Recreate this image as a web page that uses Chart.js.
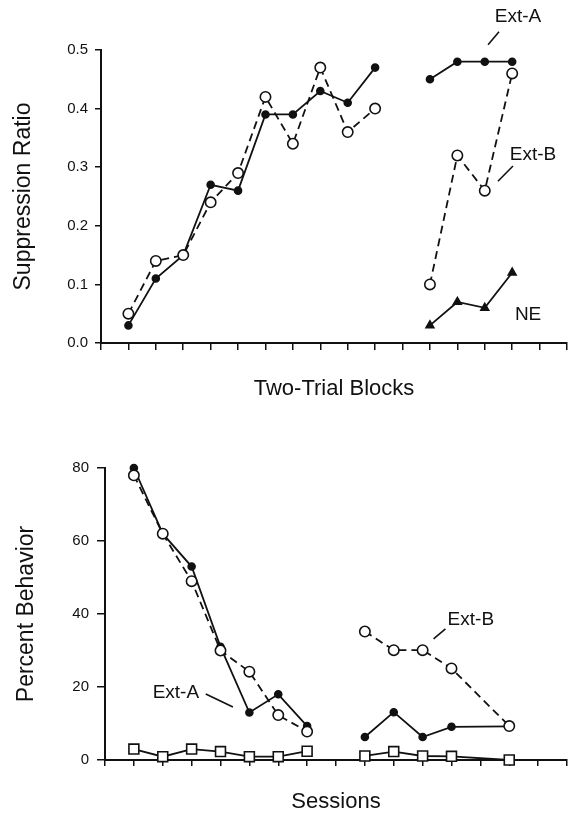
<!DOCTYPE html>
<html lang="en">
<head>
    <meta charset="UTF-8">
    <title>Suppression Ratio and Percent Behavior</title>
    <script src="https://cdn.jsdelivr.net/npm/chart.js"></script>
    <style>
        body { margin: 0; background: #fff; }
        .panel { position: absolute; left: 0; width: 569px; }
        #top { top: 0; height: 400px; }
        #bottom { top: 400px; height: 415px; }
    </style>
</head>
<body>
    <div class="panel" id="top"><canvas id="suppressionChart" width="569" height="400"></canvas></div>
    <div class="panel" id="bottom"><canvas id="behaviorChart" width="569" height="415"></canvas></div>

    <script>
        // top panel: suppression ratio by two-trial block
        const blocksAcq = [0, 1, 2, 3, 4, 5, 6, 7, 8, 9];
        const supFilled = [0.03, 0.11, 0.15, 0.27, 0.26, 0.39, 0.39, 0.43, 0.41, 0.47];
        const supOpen = [0.05, 0.14, 0.15, 0.24, 0.29, 0.42, 0.34, 0.47, 0.36, 0.40];
        const blocksExt = [11, 12, 13, 14];
        const supExtA = [0.45, 0.48, 0.48, 0.48];
        const supExtB = [0.10, 0.32, 0.26, 0.46];
        const supNE = [0.03, 0.07, 0.06, 0.12];
        const supTicks = [0, 0.1, 0.2, 0.3, 0.4, 0.5];

        // bottom panel: percent behavior by session
        const sessionsAcq = [0, 1, 2, 3, 4, 5, 6];
        const behFilled = [80, 62, 53, 31, 13, 18, 9.3];
        const behOpen = [78, 62, 49, 30, 24.2, 12.3, 7.8];
        const behSquare = [3, 0.9, 3, 2.3, 0.9, 0.9, 2.4];
        const sessionsExt = [8, 9, 10, 11, 13];
        const behExtA = [6.3, 13.1, 6.3, 9.1, 9.2];
        const behExtB = [35.2, 30.1, 30.1, 25.1, 9.3];
        const behNE = [1.1, 2.3, 1.1, 1.0, 0];
        const behTicks = [0, 20, 40, 60, 80];

        const FONT = '"Liberation Sans", Arial, Helvetica, sans-serif';
        const INK = '#111';

        function pts(xs, ys) {
            return xs.map((x, i) => ({ x: x, y: ys[i] }));
        }

        function series(xs, ys, kind) {
            let ds = {
                data: pts(xs, ys),
                borderColor: INK,
                borderWidth: 1.8,
                pointBorderColor: INK,
                pointBorderWidth: 1.6,
                clip: false,
                fill: false
            };
            if (kind === "open") {
                ds.borderDash = [8, 5];
                ds.pointStyle = "circle";
                ds.pointRadius = 5.2;
                ds.pointBackgroundColor = "#fff";
            } else if (kind === "filled") {
                ds.pointStyle = "circle";
                ds.pointRadius = 3.5;
                ds.pointBackgroundColor = INK;
            } else if (kind === "triangle") {
                ds.pointStyle = "triangle";
                ds.pointRadius = 4.5;
                ds.pointBackgroundColor = INK;
            } else if (kind === "square") {
                ds.pointStyle = "rect";
                ds.pointRadius = 7;
                ds.pointBackgroundColor = "#fff";
            }
            return ds;
        }

        // labels with short leader lines, given in data units
        const notesPlugin = {
            id: "notes",
            afterDatasetsDraw(chart, args, opts) {
                const ctx = chart.ctx;
                const xs = chart.scales.x, ys = chart.scales.y;
                ctx.save();
                ctx.fillStyle = INK;
                ctx.strokeStyle = INK;
                ctx.lineWidth = 1.6;
                ctx.font = "19px " + FONT;
                ctx.textAlign = "center";
                ctx.textBaseline = "middle";
                (opts.items || []).forEach(n => {
                    ctx.fillText(n.text, xs.getPixelForValue(n.x), ys.getPixelForValue(n.y));
                    if (n.line) {
                        ctx.beginPath();
                        ctx.moveTo(xs.getPixelForValue(n.line[0]), ys.getPixelForValue(n.line[1]));
                        ctx.lineTo(xs.getPixelForValue(n.line[2]), ys.getPixelForValue(n.line[3]));
                        ctx.stroke();
                    }
                });
                ctx.restore();
            }
        };

        function makeChart(id, cfg) {
            return new Chart(document.getElementById(id), {
                type: "line",
                data: { datasets: cfg.datasets },
                options: {
                    responsive: false,
                    animation: false,
                    layout: {
                        autoPadding: false,
                        padding: { top: cfg.padTop, right: 2, left: 0, bottom: 0 }
                    },
                    plugins: {
                        legend: { display: false },
                        tooltip: { enabled: false },
                        notes: { items: cfg.notes }
                    },
                    scales: {
                        x: {
                            type: "linear",
                            min: cfg.xMin,
                            max: cfg.xMax,
                            ticks: { stepSize: 1, display: false },
                            grid: { drawOnChartArea: false, tickLength: cfg.xTickLen, color: INK, lineWidth: 1.5 },
                            border: { color: INK, width: 2 },
                            title: {
                                display: true,
                                text: cfg.xTitle,
                                color: INK,
                                font: { family: FONT, size: 22, lineHeight: 1 },
                                padding: { top: 0, bottom: cfg.xTitlePad }
                            },
                            afterFit: s => { s.height = cfg.xHeight; }
                        },
                        y: {
                            min: cfg.yTicks[0],
                            max: cfg.yTicks[cfg.yTicks.length - 1],
                            afterBuildTicks: s => { s.ticks = cfg.yTicks.map(v => ({ value: v })); },
                            ticks: {
                                color: INK,
                                padding: cfg.yLabelPad,
                                font: { family: FONT, size: 15 },
                                callback: cfg.yFormat
                            },
                            grid: { drawOnChartArea: false, tickLength: cfg.yTickLen, color: INK, lineWidth: 1.5 },
                            border: { color: INK, width: 2 },
                            title: {
                                display: true,
                                text: cfg.yTitle,
                                color: INK,
                                font: { family: FONT, size: 23, lineHeight: 1 },
                                padding: { top: cfg.yTitlePad, bottom: 0 }
                            },
                            afterFit: s => { s.width = cfg.yWidth; }
                        }
                    }
                },
                plugins: [notesPlugin]
            });
        }

        makeChart("suppressionChart", {
            datasets: [
                series(blocksAcq, supOpen, "open"),
                series(blocksExt, supExtB, "open"),
                series(blocksAcq, supFilled, "filled"),
                series(blocksExt, supExtA, "filled"),
                series(blocksExt, supNE, "triangle")
            ],
            padTop: 50, xMin: -1, xMax: 16, xHeight: 57, xTickLen: 7,
            xTitle: "Two-Trial Blocks", xTitlePad: 0,
            yTicks: supTicks, yFormat: v => v.toFixed(1), yWidth: 101,
            yTickLen: 6, yLabelPad: 7,
            yTitle: "Suppression Ratio", yTitlePad: 12,
            notes: [
                { text: "Ext-A", x: 14.21, y: 0.557, line: [13.52, 0.531, 13.12, 0.509] },
                { text: "Ext-B", x: 14.76, y: 0.322, line: [14.03, 0.302, 13.48, 0.276] },
                { text: "NE", x: 14.58, y: 0.049 }
            ]
        });

        makeChart("behaviorChart", {
            datasets: [
                series(sessionsAcq, behOpen, "open"),
                series(sessionsExt, behExtB, "open"),
                series(sessionsAcq, behFilled, "filled"),
                series(sessionsExt, behExtA, "filled"),
                series(sessionsAcq, behSquare, "square"),
                series(sessionsExt, behNE, "square")
            ],
            padTop: 68, xMin: -1, xMax: 15, xHeight: 55, xTickLen: 6,
            xTitle: "Sessions", xTitlePad: 2,
            yTicks: behTicks, yFormat: v => String(v), yWidth: 105,
            yTickLen: 8, yLabelPad: 8,
            yTitle: "Percent Behavior", yTitlePad: 15,
            notes: [
                { text: "Ext-A", x: 1.455, y: 18.4, line: [2.49, 18.1, 3.43, 14.5] },
                { text: "Ext-B", x: 11.67, y: 38.5, line: [10.38, 33.2, 10.79, 35.9] }
            ]
        });
    </script>
</body>
</html>
